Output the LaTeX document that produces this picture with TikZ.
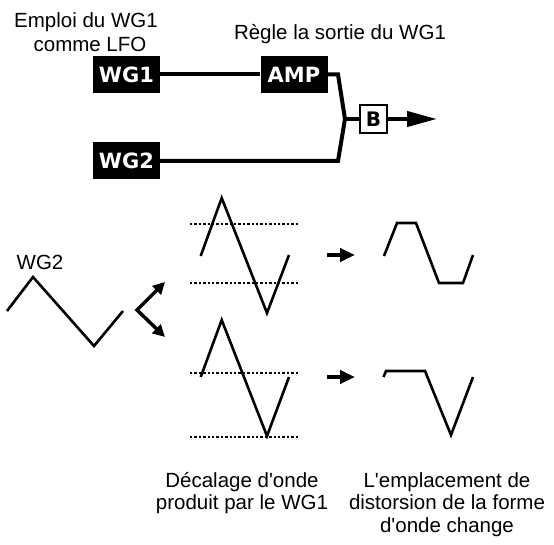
\documentclass[tikz,border=0pt]{standalone}
\usepackage{fontspec}
\setmainfont{Liberation Sans}
\newfontfamily\boxfont{DejaVu Sans}
\usetikzlibrary{arrows.meta}
\newcommand{\apos}{\textquotesingle}
\tikzset{
  blk/.style={fill=black, text=white, font=\boxfont\bfseries\fontsize{21}{21}\selectfont,
    minimum width=67pt, minimum height=37pt, inner sep=0pt},
  bbox/.style={draw, line width=1.5pt, fill=white, text=black,
    font=\boxfont\bfseries\fontsize{20}{20}\selectfont,
    minimum width=27pt, minimum height=28pt, inner sep=0pt},
  lbl/.style={font=\fontsize{20.5}{24}\selectfont, anchor=base, inner sep=0pt},
  wire/.style={line width=4pt, line join=miter},
  wave/.style={line width=2.6pt, line join=miter},
  lev/.style={line width=1.6pt, dash pattern=on 2.4pt off 2pt},
  fat/.style={line width=4pt, -{Triangle[length=15pt,width=13pt]}},
}
\begin{document}
\begin{tikzpicture}[x=1pt,y=-1pt]
\useasboundingbox (0,0) rectangle (554,545);
% top texts
\node[lbl] (t1) at (86,28) {Emploi du WG1};
\node[lbl] (t2) at (90,52) {comme LFO};
\node[lbl] (t3) at (340,40) {Règle la sortie du WG1};
% boxes
\node[blk] (wg1) at (126.5,74.5) {WG1};
\node[blk] (amp) at (294,74.5) {AMP};
\node[blk] (wg2) at (126.5,161) {WG2};
\node[bbox] (b) at (373.5,119) {B};
\coordinate (ka) at (338,74.5);
\coordinate (j) at (345,119);
\coordinate (kb) at (338,161);
\coordinate (tip) at (437,119);
\draw[wire] (wg1) -- (amp);
\draw[wire] (wg2.east) -- (kb) -- (j) -- (ka) -- (amp.east);
\draw[wire] (j) -- (b.west);
\draw[wire, -{Triangle[length=30pt,width=15pt]}] (b.east) -- (tip);
% WG2 wave
\node[lbl] (w2) at (40,270) {WG2};
\draw[wave] (7,311) -- (33,277) -- (94,346) -- (123,311);
% branch arrows
\coordinate (v) at (137,310);
\coordinate (bu) at (165,282);
\coordinate (bd) at (165,337);
\draw[line width=3.5pt, line join=miter, {Triangle[length=12pt,width=12pt]}-{Triangle[length=12pt,width=12pt]}] (bu) -- (v) -- (bd);
% shifted waves
\draw[lev] (190,224) -- (298,224);
\draw[lev] (190,283) -- (298,283);
\draw[wave] (200.7,256) -- (221.7,198) -- (267,313) -- (289,255);
\draw[lev] (190,373) -- (298,373);
\draw[lev] (190,437) -- (298,437);
\draw[wave] (200.7,377) -- (221.7,320) -- (267,436) -- (289,377);
% small arrows
\coordinate (a1s) at (327,255); \coordinate (a1e) at (355,255);
\coordinate (a2s) at (327,377); \coordinate (a2e) at (355,377);
\draw[fat] (a1s) -- (a1e);
\draw[fat] (a2s) -- (a2e);
% clipped waves
\draw[wave] (384,256) -- (397,223) -- (416,223) -- (439,283) -- (463,283) -- (473,255);
\draw[wave] (383.5,377) -- (386,371) -- (425,371) -- (451,435) -- (473,377);
% bottom texts
\node[lbl] (c1) at (242,487) {Décalage d\apos onde};
\node[lbl] (c2) at (242,509) {produit par le WG1};
\node[lbl] (d1) at (447,487) {L\apos emplacement de};
\node[lbl] (d2) at (447,509) {distorsion de la forme};
\node[lbl] (d3) at (447,532) {d\apos onde change};
\end{tikzpicture}
\end{document}
